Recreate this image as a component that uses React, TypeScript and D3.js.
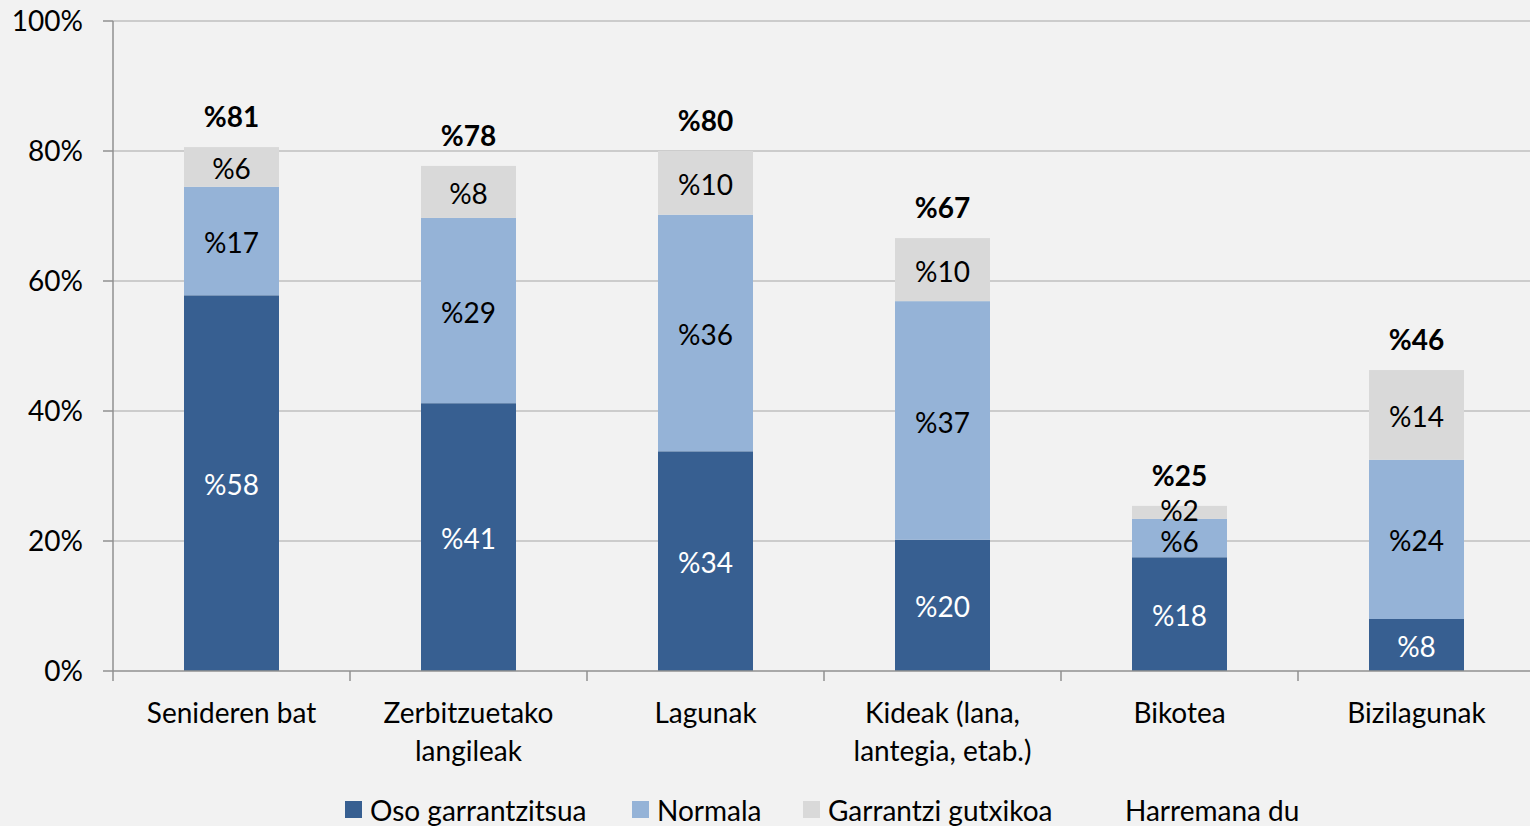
import React from "react";
import * as d3 from "d3";

const categories = [
  ["Senideren bat"],
  ["Zerbitzuetako", "langileak"],
  ["Lagunak"],
  ["Kideak (lana,", "lantegia, etab.)"],
  ["Bikotea"],
  ["Bizilagunak"],
];
const osoGarrantzitsua = [57.8, 41.2, 33.8, 20.2, 17.5, 8.0];
const normala = [16.7, 28.5, 36.4, 36.7, 5.9, 24.5];
const garrantziGutxikoa = [6.1, 8.0, 9.8, 9.7, 2.0, 13.8];
const osoLabels = ["%58", "%41", "%34", "%20", "%18", "%8"];
const normalaLabels = ["%17", "%29", "%36", "%37", "%6", "%24"];
const gutxiLabels = ["%6", "%8", "%10", "%10", "%2", "%14"];
const totalLabels = ["%81", "%78", "%80", "%67", "%25", "%46"];
const yTicks = [0, 20, 40, 60, 80, 100];
const seriesNames = ["Oso garrantzitsua", "Normala", "Garrantzi gutxikoa", "Harremana du"];
const colors = ["#375f91", "#95b3d7", "#d9d9d9"];

const W = 1530, H = 826;
const left = 113, top = 21, bottom = 671;
const FONT = "Lato, 'Open Sans', sans-serif";
const FS = 28;

export default function App() {
  const xb = d3.scaleBand<number>().domain(d3.range(6)).range([left, left + 237 * 6]);
  const y = d3.scaleLinear().domain([0, 100]).range([bottom, top]);
  const series = [osoGarrantzitsua, normala, garrantziGutxikoa];
  const labels = [osoLabels, normalaLabels, gutxiLabels];
  const bw = 95;

  return (
    <svg width={W} height={H} style={{ position: "absolute", left: 0, top: 0, background: "#f2f2f2" }} fontFamily={FONT}>
      <rect x={0} y={0} width={W} height={H} fill="#f2f2f2" />
      {yTicks.map((t) => (
        <g key={t}>
          {t > 0 && <line x1={left} x2={W} y1={y(t)} y2={y(t)} stroke="#bfbfbf" strokeWidth={1.5} />}
          <line x1={left - 10} x2={left} y1={y(t)} y2={y(t)} stroke="#909090" strokeWidth={1.5} />
          <text x={left - 30} y={y(t)} dy="0.36em" textAnchor="end" fontSize={FS} fill="#000">{t}%</text>
        </g>
      ))}
      <line x1={left} x2={left} y1={top} y2={bottom} stroke="#909090" strokeWidth={1.5} />
      {categories.map((c, i) => {
        const cx = (xb(i) as number) + xb.bandwidth() / 2;
        const x0 = cx - bw / 2;
        let cum = 0;
        const rects = series.map((s, k) => {
          const y0 = cum;
          cum += s[i];
          return { k, y0, y1: cum };
        });
        return (
          <g key={i}>
            {rects.map((r) => (
              <rect key={r.k} x={x0} width={bw} y={y(r.y1)} height={y(r.y0) - y(r.y1)} fill={colors[r.k]} />
            ))}
            {rects.map((r) => {
              let off = 2;
              if (i === 4 && r.k === 2) off = -1;
              if (i === 4 && r.k === 1) off = 4;
              return (
                <text key={"l" + r.k} x={cx} y={(y(r.y0) + y(r.y1)) / 2 + off} dy="0.36em" textAnchor="middle" fontSize={FS} fill={r.k === 0 ? "#fff" : "#000"}>
                  {labels[r.k][i]}
                </text>
              );
            })}
            <text x={cx} y={y(cum) - 30} dy="0.36em" textAnchor="middle" fontSize={FS} fontWeight="bold" fill="#000">{totalLabels[i]}</text>
            {c.map((line, j) => (
              <text key={"c" + j} x={cx} y={713 + j * 38} dy="0.36em" textAnchor="middle" fontSize={FS} fill="#000">{line}</text>
            ))}
          </g>
        );
      })}
      <line x1={left} x2={W} y1={bottom} y2={bottom} stroke="#909090" strokeWidth={1.5} />
      {d3.range(7).map((i) => (
        <line key={i} x1={left + 237 * i} x2={left + 237 * i} y1={bottom} y2={bottom + 10} stroke="#909090" strokeWidth={1.5} />
      ))}
      {[
        { x: 345, tx: 370 },
        { x: 632, tx: 657 },
        { x: 803, tx: 828 },
        { x: 1100, tx: 1125 },
      ].map((p, k) => (
        <g key={k}>
          {k < 3 && <rect x={p.x} y={801} width={17} height={17} fill={colors[k]} />}
          <text x={p.tx} y={811} dy="0.36em" fontSize={FS} fill="#000">{seriesNames[k]}</text>
        </g>
      ))}
    </svg>
  );
}
